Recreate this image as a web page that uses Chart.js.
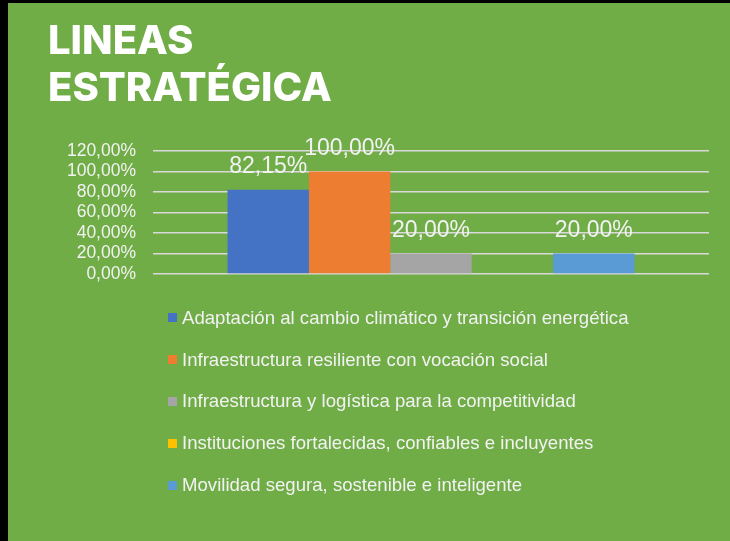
<!DOCTYPE html>
<html>
<head>
<meta charset="utf-8">
<script src="https://cdn.jsdelivr.net/npm/chart.js@4.4.1/dist/chart.umd.min.js"></script>
<style>
  html, body { margin: 0; padding: 0; background: #000; }
  #frame {
    position: absolute; left: 8px; top: 3px; width: 722px; height: 538px;
    background: #70AD47; overflow: hidden;
  }
  #title {
    position: absolute; left: 40px; top: 13px;
    font: 800 40px Inter, sans-serif; line-height: 47px;
    color: #fff;
  }
  #chart-box { position: absolute; left: -8px; top: -3px; width: 730px; height: 541px; }
  #legend {
    position: absolute; left: 160px; top: 294px;
    font: 18.6px "Liberation Sans", Arial, sans-serif; color: #f2f2f2;
  }
  .item { display: flex; align-items: center; height: 41.8px; }
  .box { width: 9px; height: 9px; margin-right: 5px; }
</style>
</head>
<body>
<div id="frame">
  <div id="chart-box"><canvas id="lineas-chart" width="730" height="541"></canvas></div>
  <div id="title">LINEAS<br>ESTRATÉGICA</div>
  <div id="legend"></div>
</div>
<script>
const seriesNames = [
  'Adaptación al cambio climático y transición energética',
  'Infraestructura resiliente con vocación social',
  'Infraestructura y logística para la competitividad',
  'Instituciones fortalecidas, confiables e incluyentes',
  'Movilidad segura, sostenible e inteligente'
];
const seriesValues = [82.15, 100, 20, null, 20];
const seriesColors = ['#4472C4', '#ED7D31', '#A5A5A5', '#FFC000', '#5B9BD5'];
const yTicks = [0, 20, 40, 60, 80, 100, 120];

const fmtPct = (v) => v.toFixed(2).replace('.', ',') + '%';

// etiquetas de valor encima de cada barra
const barLabels = {
  id: 'barLabels',
  afterDatasetsDraw(chart) {
    const ctx = chart.ctx;
    ctx.save();
    ctx.font = '23px "Liberation Sans", Arial, sans-serif';
    ctx.fillStyle = '#f2f2f2';
    ctx.textAlign = 'center';
    ctx.textBaseline = 'alphabetic';
    chart.data.datasets.forEach((ds, i) => {
      const meta = chart.getDatasetMeta(i);
      meta.data.forEach((bar, j) => {
        const v = ds.data[j];
        if (v === null || v === undefined) return;
        ctx.fillText(fmtPct(v), bar.x, bar.y - 17);
      });
    });
    ctx.restore();
  }
};

const ctx = document.querySelector('#lineas-chart').getContext('2d');

const chart = new Chart(ctx, {
  type: 'bar',
  data: {
    labels: [''],
    datasets: seriesNames.map((name, i) => ({
      label: name,
      data: [seriesValues[i]],
      backgroundColor: seriesColors[i],
      categoryPercentage: 0.732,
      barPercentage: 1,
    })),
  },
  options: {
    responsive: false,
    animation: false,
    layout: {
      padding: {left: 8, right: 21, top: 151, bottom: 267},
    },
    scales: {
      x: {
        display: false,
      },
      y: {
        min: 0,
        max: 120,
        afterBuildTicks: (scale) => {
          scale.ticks = yTicks.map((v) => ({value: v}));
        },
        afterFit: (scale) => {
          scale.width = 145;
        },
        ticks: {
          autoSkip: false,
          padding: 17,
          color: '#f2f2f2',
          font: {family: '"Liberation Sans", Arial, sans-serif', size: 17.5},
          callback: (v) => fmtPct(v),
        },
        grid: {
          color: '#d9d9d9',
          lineWidth: 1.5,
          drawTicks: false,
        },
        border: {
          display: false,
        },
      },
    },
    plugins: {
      legend: {display: false},
      tooltip: {enabled: false},
    },
  },
  plugins: [barLabels],
});

// leyenda en columna, construida desde los datasets
const legendEl = document.getElementById('legend');
chart.data.datasets.forEach((ds) => {
  const row = document.createElement('div');
  row.className = 'item';
  const box = document.createElement('span');
  box.className = 'box';
  box.style.background = ds.backgroundColor;
  const txt = document.createElement('span');
  txt.textContent = ds.label;
  row.appendChild(box);
  row.appendChild(txt);
  legendEl.appendChild(row);
});
</script>
</body>
</html>
